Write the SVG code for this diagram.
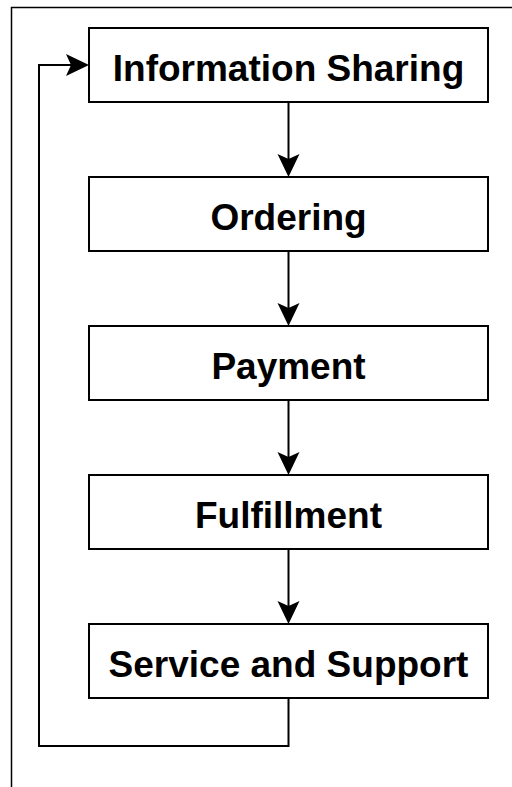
<svg xmlns="http://www.w3.org/2000/svg" width="512" height="787" viewBox="0 0 512 787">
<style>
.box{fill:#fff;stroke:#000;stroke-width:2}
.lbl{font-family:"Liberation Sans",Arial,sans-serif;font-weight:bold;font-size:37px;fill:#000;text-anchor:middle}
.edge{fill:none;stroke:#000;stroke-width:2}
.head{fill:#000;stroke:none}
</style>
<defs>
<path id="ah" d="M0,0 L-11,-23 L0,-18 L11,-23 Z"/>
</defs>
<rect width="512" height="787" fill="#fff"/>
<path d="M11.5,787 V7.5 H512" fill="none" stroke="#000" stroke-width="1.5"/>
<g id="connectors">
<path class="edge" d="M288.5,102 V159"/>
<use href="#ah" class="head" x="288.5" y="177"/>
<path class="edge" d="M288.5,251 V308"/>
<use href="#ah" class="head" x="288.5" y="326"/>
<path class="edge" d="M288.5,400 V457"/>
<use href="#ah" class="head" x="288.5" y="475"/>
<path class="edge" d="M288.5,549 V606"/>
<use href="#ah" class="head" x="288.5" y="624"/>
<path class="edge" d="M288.5,698 V746 H39 V65 H71"/>
<use href="#ah" class="head" transform="translate(89,65) rotate(-90)"/>
</g>
<g id="n1"><rect class="box" x="89" y="28" width="399" height="74"/><text class="lbl" x="288.5" y="81">Information Sharing</text></g>
<g id="n2"><rect class="box" x="89" y="177" width="399" height="74"/><text class="lbl" x="288.5" y="230">Ordering</text></g>
<g id="n3"><rect class="box" x="89" y="326" width="399" height="74"/><text class="lbl" x="288.5" y="379">Payment</text></g>
<g id="n4"><rect class="box" x="89" y="475" width="399" height="74"/><text class="lbl" x="288.5" y="528">Fulfillment</text></g>
<g id="n5"><rect class="box" x="89" y="624" width="399" height="74"/><text class="lbl" x="288.5" y="677">Service and Support</text></g>
</svg>
